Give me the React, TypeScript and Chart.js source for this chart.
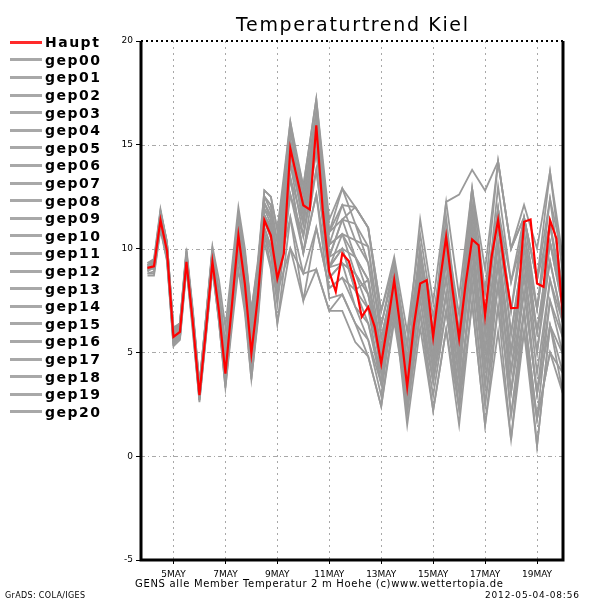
import React, { useEffect, useRef } from "react";
import { Chart, registerables } from "chart.js";
Chart.register(...registerables);

const TITLE = "Temperaturtrend Kiel";
const CAPTION = "GENS alle Member Temperatur 2 m Hoehe (c)www.wettertopia.de";
const CREDIT = "GrADS: COLA/IGES";
const STAMP = "2012-05-04-08:56";

// forecast hours since 2012-05-04 00Z
const HOURS_6 = [0, 6, 12, 18, 24, 30, 36, 42, 48, 54, 60, 66, 72, 78, 84, 90, 96, 102, 108, 114, 120, 126, 132, 138, 144, 150, 156, 162, 168, 174, 180, 186, 192, 198, 204, 210, 216, 222, 228, 234, 240, 246, 252, 258, 264, 270, 276, 282, 288, 294, 300, 306, 312, 318, 324, 330, 336, 342, 348, 354, 360, 366, 372, 378, 384];
const HOURS_M = [0, 6, 12, 18, 24, 30, 36, 42, 48, 54, 60, 66, 72, 78, 84, 90, 96, 102, 108, 114, 120, 132, 144, 156, 168, 180, 192, 204, 216, 228, 240, 252, 264, 276, 288, 300, 312, 324, 336, 348, 360, 372, 384];

const TICK_HOURS = [24, 72, 120, 168, 216, 264, 312, 360];
const TICK_LABELS = ["5MAY", "7MAY", "9MAY", "11MAY", "13MAY", "15MAY", "17MAY", "19MAY"];
const Y_GRID = [0, 5, 10, 15];

const HAUPT = [9.07, 9.15, 11.37, 9.9, 5.75, 5.99, 9.36, 6.4, 2.94, 6.07, 9.36, 7.0, 3.98, 7.27, 10.64, 8.3, 4.95, 7.67, 11.37, 10.64, 8.56, 9.76, 14.82, 13.45, 12.09, 11.88, 15.94, 11.85, 8.88, 7.92, 9.76, 9.4, 8.3, 6.71, 7.19, 6.23, 4.46, 6.39, 8.48, 6.07, 3.34, 6.23, 8.32, 8.48, 5.75, 8.32, 10.57, 8.0, 5.67, 8.3, 10.44, 10.16, 6.79, 9.6, 11.37, 9.1, 7.13, 7.15, 11.29, 11.4, 8.32, 8.16, 11.37, 10.48, 6.55];

const GEP00 = [9.0, 9.2, 11.5, 10.0, 5.9, 6.1, 9.5, 6.6, 3.1, 6.2, 9.5, 7.1, 4.1, 7.4, 10.7, 8.6, 5.5, 8.2, 11.9, 11.5, 9.7, 15.2, 12.6, 16.6, 10.2, 10.7, 8.8, 7.1, 3.5, 7.3, 2.1, 6.9, 2.2, 6.1, 2.3, 9.1, 4.3, 10.2, 5.0, 8.7, 3.0, 6.3, 3.0];
const GEP01 = [9.2, 9.3, 11.2, 9.7, 5.6, 5.9, 9.3, 6.3, 2.8, 5.9, 9.2, 6.8, 3.7, 6.9, 10.1, 7.7, 4.2, 7.0, 10.7, 10.0, 7.9, 13.4, 11.2, 15.4, 10.2, 12.1, 12.0, 11.0, 6.3, 8.9, 4.1, 9.4, 6.0, 12.25, 12.6, 13.8, 12.8, 14.2, 10.0, 11.5, 8.5, 12.4, 7.9];
const GEP02 = [8.9, 9.1, 11.8, 10.3, 6.1, 6.4, 9.8, 6.8, 3.3, 6.5, 9.9, 7.5, 4.4, 7.7, 11.0, 9.0, 5.9, 8.5, 12.2, 11.4, 9.2, 14.7, 11.2, 14.7, 9.6, 11.4, 11.2, 10.1, 5.7, 8.5, 3.6, 8.2, 4.2, 9.4, 5.2, 12.0, 7.9, 14.2, 10.0, 11.5, 7.1, 12.4, 9.5];
const GEP03 = [9.1, 9.0, 11.0, 9.5, 5.4, 5.7, 9.1, 5.9, 2.7, 5.8, 9.1, 6.6, 3.5, 6.6, 9.7, 7.5, 4.2, 7.1, 11.0, 10.1, 7.9, 14.1, 11.7, 16.0, 10.8, 12.9, 11.2, 9.3, 5.1, 8.1, 3.1, 7.6, 3.6, 7.0, 2.3, 9.1, 3.4, 9.3, 3.1, 7.0, 1.8, 7.5, 5.7];
const GEP04 = [9.2, 9.3, 11.6, 10.0, 5.8, 6.1, 9.6, 6.6, 3.0, 6.3, 9.7, 7.6, 4.8, 8.2, 11.6, 9.5, 6.4, 9.0, 12.5, 12.1, 10.3, 15.7, 12.1, 15.4, 9.6, 11.4, 12.0, 11.0, 7.0, 9.3, 4.6, 8.8, 4.2, 7.8, 2.3, 7.4, 1.5, 7.2, 3.1, 8.7, 5.0, 10.3, 7.1];
const GEP05 = [9.0, 9.1, 11.3, 9.8, 5.7, 6.0, 9.4, 6.4, 2.9, 6.1, 9.4, 7.0, 3.9, 7.2, 10.4, 8.2, 4.9, 7.8, 11.6, 10.9, 8.8, 14.7, 11.7, 16.0, 9.6, 10.0, 8.0, 7.1, 4.6, 8.1, 3.1, 7.6, 3.6, 7.8, 3.8, 9.9, 3.4, 8.3, 2.0, 7.0, 0.5, 6.3, 4.9];
const GEP06 = [9.3, 9.5, 11.9, 10.3, 6.0, 6.4, 10.0, 7.0, 3.4, 6.7, 10.1, 8.5, 6.2, 9.1, 12.0, 10.0, 7.0, 9.4, 12.8, 12.5, 10.9, 15.2, 11.7, 15.4, 9.1, 10.7, 10.4, 9.3, 6.3, 9.3, 5.3, 10.0, 6.0, 10.1, 4.5, 11.3, 5.9, 11.9, 7.0, 11.5, 8.5, 13.7, 8.7];
const GEP07 = [8.8, 8.9, 11.1, 9.6, 5.5, 5.8, 9.2, 6.1, 2.6, 5.7, 9.0, 6.5, 3.3, 6.2, 9.0, 6.9, 3.7, 6.5, 10.3, 9.0, 6.4, 10.0, 8.8, 11.0, 8.1, 8.6, 7.2, 5.6, 2.9, 7.7, 3.6, 9.4, 5.4, 9.4, 4.5, 11.3, 6.8, 11.9, 5.9, 10.1, 5.0, 9.4, 6.4];
const GEP08 = [9.1, 9.2, 11.4, 10.0, 5.9, 6.1, 9.5, 6.6, 3.2, 6.3, 9.6, 7.2, 4.1, 7.6, 11.0, 8.8, 5.5, 8.1, 11.6, 11.1, 9.2, 13.4, 9.8, 12.6, 7.6, 7.8, 6.4, 4.8, 2.4, 6.5, 2.6, 8.2, 4.8, 10.1, 5.2, 10.6, 4.3, 8.3, 2.0, 6.0, 0.5, 6.3, 4.0];
const GEP09 = [9.0, 9.3, 11.7, 10.3, 6.2, 6.4, 9.7, 6.9, 3.5, 6.6, 9.8, 7.9, 5.4, 8.5, 11.6, 9.5, 6.4, 9.0, 12.5, 12.1, 10.3, 16.1, 12.6, 16.0, 10.2, 10.7, 9.6, 8.5, 4.6, 8.1, 4.1, 10.0, 5.4, 10.1, 5.9, 12.0, 6.8, 11.9, 8.4, 10.8, 6.0, 10.3, 7.9];
const GEP10 = [8.7, 8.7, 10.9, 9.4, 5.3, 5.6, 9.0, 6.2, 2.8, 5.9, 9.2, 6.7, 3.5, 6.8, 10.1, 7.9, 4.6, 7.2, 10.7, 9.7, 7.3, 12.6, 10.6, 13.8, 8.6, 9.3, 8.8, 7.8, 5.1, 8.5, 3.6, 8.8, 4.8, 8.6, 3.8, 10.6, 5.1, 11.0, 5.9, 10.1, 7.1, 11.2, 7.1];
const GEP11 = [9.2, 9.3, 11.5, 10.0, 5.8, 6.1, 9.6, 6.6, 3.1, 6.2, 9.5, 7.0, 3.9, 7.3, 10.7, 8.5, 5.2, 7.8, 11.3, 10.5, 8.4, 13.4, 9.8, 13.8, 9.1, 10.0, 8.0, 6.4, 4.0, 7.7, 2.6, 6.9, 2.9, 7.0, 3.1, 8.3, 2.5, 8.3, 4.1, 9.4, 6.0, 10.3, 7.1];
const GEP12 = [9.1, 9.1, 11.2, 9.7, 5.6, 5.9, 9.3, 6.4, 2.9, 6.0, 9.3, 6.8, 3.7, 7.1, 10.4, 8.0, 4.6, 7.3, 11.0, 10.1, 7.9, 10.0, 7.5, 9.0, 7.0, 7.0, 5.5, 4.8, 2.4, 6.9, 3.1, 8.8, 5.4, 10.8, 5.9, 12.9, 5.9, 10.2, 4.1, 7.9, 3.0, 8.5, 6.4];
const GEP13 = [8.9, 9.2, 11.6, 10.1, 6.0, 6.3, 9.8, 6.8, 3.3, 6.6, 10.0, 7.5, 4.4, 7.9, 11.3, 9.1, 5.9, 8.6, 12.2, 11.6, 9.7, 15.7, 13.0, 17.2, 10.8, 11.4, 9.6, 7.8, 4.0, 7.3, 1.5, 6.2, 2.2, 6.1, 1.5, 7.4, 1.5, 6.0, 0.8, 6.0, 1.8, 5.0, 4.0];
const GEP14 = [9.0, 9.1, 11.3, 9.8, 5.7, 6.0, 9.4, 6.5, 3.0, 6.1, 9.4, 7.1, 4.1, 7.3, 10.4, 8.3, 5.2, 7.9, 11.6, 10.9, 8.8, 12.6, 9.8, 12.6, 8.6, 9.3, 7.2, 6.4, 3.5, 7.3, 3.1, 8.2, 4.2, 8.6, 3.8, 9.9, 5.1, 9.3, 5.0, 9.4, 4.0, 8.5, 5.7];
const GEP15 = [9.2, 9.4, 11.8, 10.3, 6.1, 6.4, 9.9, 6.8, 3.2, 6.4, 9.8, 7.6, 4.8, 8.1, 11.3, 9.4, 6.4, 9.1, 12.8, 12.5, 10.9, 16.1, 13.0, 17.2, 11.4, 12.9, 12.0, 11.0, 7.0, 9.6, 6.0, 10.7, 6.7, 10.8, 6.8, 12.9, 9.0, 14.2, 10.0, 12.1, 10.0, 13.7, 9.5];
const GEP16 = [9.1, 9.2, 11.4, 9.9, 5.8, 6.1, 9.5, 6.5, 3.0, 6.2, 9.6, 7.2, 4.1, 7.4, 10.7, 8.3, 4.9, 7.8, 11.6, 10.7, 8.4, 14.1, 10.6, 14.7, 9.1, 10.0, 9.6, 8.5, 5.1, 8.9, 5.3, 11.4, 7.4, 12.25, 7.7, 12.9, 7.9, 11.9, 7.0, 10.8, 7.1, 11.2, 7.9];
const GEP17 = [8.8, 8.8, 11.0, 9.5, 5.4, 5.7, 9.2, 6.2, 2.7, 5.8, 9.1, 6.5, 3.3, 6.5, 9.7, 7.2, 3.7, 6.7, 10.7, 9.2, 6.4, 11.5, 8.8, 9.0, 7.0, 7.8, 6.4, 5.6, 3.5, 7.3, 2.6, 8.2, 4.8, 9.4, 4.5, 10.6, 4.3, 9.3, 3.1, 7.9, 3.0, 7.5, 4.9];
const GEP18 = [9.0, 9.2, 11.5, 10.0, 5.9, 6.2, 9.6, 6.6, 3.1, 6.2, 9.5, 7.3, 4.4, 7.7, 11.0, 8.8, 5.5, 8.2, 11.9, 11.2, 9.2, 14.7, 11.2, 15.4, 9.1, 9.3, 8.8, 7.8, 5.1, 8.9, 4.6, 9.4, 5.4, 10.8, 5.2, 12.0, 6.8, 13.0, 8.4, 11.5, 8.5, 11.2, 7.1];
const GEP19 = [9.3, 9.4, 11.7, 10.2, 6.0, 6.3, 9.7, 6.8, 3.4, 6.6, 9.9, 8.0, 5.4, 8.5, 11.6, 9.8, 7.0, 9.2, 12.5, 11.8, 9.7, 14.7, 12.1, 16.6, 10.8, 12.1, 10.4, 10.1, 5.7, 8.5, 4.1, 10.0, 6.0, 11.5, 5.9, 11.3, 5.9, 10.2, 5.0, 10.1, 6.0, 9.4, 6.4];
const GEP20 = [9.1, 9.1, 11.2, 9.7, 5.6, 5.9, 9.3, 6.4, 2.9, 6.0, 9.3, 6.9, 3.9, 7.0, 10.1, 8.0, 4.9, 7.6, 11.3, 10.7, 8.8, 11.5, 7.5, 11.0, 8.1, 8.6, 8.0, 8.5, 4.6, 7.7, 2.1, 6.9, 3.6, 7.8, 3.1, 8.3, 2.5, 7.2, 0.8, 7.0, 1.8, 5.0, 3.0];

const MEMBERS = [GEP00, GEP01, GEP02, GEP03, GEP04, GEP05, GEP06, GEP07, GEP08, GEP09, GEP10, GEP11, GEP12, GEP13, GEP14, GEP15, GEP16, GEP17, GEP18, GEP19, GEP20];
const MEMBER_NAMES = ["gep00", "gep01", "gep02", "gep03", "gep04", "gep05", "gep06", "gep07", "gep08", "gep09", "gep10", "gep11", "gep12", "gep13", "gep14", "gep15", "gep16", "gep17", "gep18", "gep19", "gep20"];

const RED = "#ff0000";
const GRAY = "#9a9a9a";
const FONT = "DejaVu Sans";

function fitText(ctx: CanvasRenderingContext2D, text: string, x: number, y: number, width: number, font: string) {
  ctx.font = font;
  (ctx as any).letterSpacing = "0px";
  const w = ctx.measureText(text).width;
  const ls = (width - w) / Math.max(1, text.length - 1);
  (ctx as any).letterSpacing = ls + "px";
  ctx.textAlign = "left";
  ctx.fillText(text, x, y);
  (ctx as any).letterSpacing = "0px";
}

const decorPlugin = {
  id: "decor",
  beforeDatasetsDraw(chart: any) {
    const ctx: CanvasRenderingContext2D = chart.ctx;
    const a = chart.chartArea;
    const xs = chart.scales.x;
    const ys = chart.scales.y;
    ctx.save();
    ctx.strokeStyle = "#a8a8a8";
    ctx.lineWidth = 1;
    ctx.setLineDash([2, 4]);
    for (const h of TICK_HOURS) {
      const px = Math.round(xs.getPixelForValue(h)) + 0.5;
      ctx.beginPath();
      ctx.moveTo(px, a.top);
      ctx.lineTo(px, a.bottom);
      ctx.stroke();
    }
    ctx.setLineDash([4, 3, 1, 3]);
    for (const v of Y_GRID) {
      const py = Math.round(ys.getPixelForValue(v)) + 0.5;
      ctx.beginPath();
      ctx.moveTo(a.left, py);
      ctx.lineTo(a.right, py);
      ctx.stroke();
    }
    ctx.restore();
  },
  afterDraw(chart: any) {
    const ctx: CanvasRenderingContext2D = chart.ctx;
    const a = chart.chartArea;
    ctx.save();
    ctx.strokeStyle = "#000";
    ctx.lineWidth = 3;
    ctx.beginPath();
    ctx.moveTo(a.left, a.top);
    ctx.lineTo(a.left, a.bottom);
    ctx.lineTo(a.right, a.bottom);
    ctx.lineTo(a.right, a.top);
    ctx.stroke();
    ctx.lineWidth = 2;
    ctx.setLineDash([2, 3]);
    ctx.beginPath();
    ctx.moveTo(a.left, a.top);
    ctx.lineTo(a.right, a.top);
    ctx.stroke();
    ctx.setLineDash([]);

    ctx.fillStyle = "#000";
    ctx.textBaseline = "alphabetic";
    fitText(ctx, TITLE, 236, 31, 232, `19px "${FONT}"`);

    const names = ["Haupt", ...MEMBER_NAMES];
    ctx.font = `bold 14px "${FONT}"`;
    (ctx as any).letterSpacing = "0px";
    const wRef = ctx.measureText("gep00").width;
    const ls = (55 - wRef) / 4;
    names.forEach((name, j) => {
      const y = 41.7 + 17.6 * j;
      ctx.strokeStyle = j === 0 ? "#ff2a2a" : "#a8a8a8";
      ctx.lineWidth = 3;
      ctx.beginPath();
      ctx.moveTo(10, Math.round(y) + 0.5);
      ctx.lineTo(42, Math.round(y) + 0.5);
      ctx.stroke();
      ctx.fillStyle = "#000";
      ctx.font = `bold 14px "${FONT}"`;
      (ctx as any).letterSpacing = ls + "px";
      ctx.textAlign = "left";
      ctx.fillText(name, 45, y + 5.5);
    });
    (ctx as any).letterSpacing = "0px";
    fitText(ctx, CAPTION, 135, 587, 368, `10px "${FONT}"`);
    fitText(ctx, STAMP, 485, 598, 94, `9px "${FONT}"`);
    fitText(ctx, CREDIT, 5, 598, 80, `8px "${FONT}"`);
    ctx.restore();
  },
};

export default function App() {
  const ref = useRef<HTMLCanvasElement>(null);
  useEffect(() => {
    const canvas = ref.current;
    if (!canvas) return;
    const datasets: any[] = [
      {
        label: "Haupt",
        data: HAUPT.map((y, i) => ({ x: HOURS_6[i], y })),
        borderColor: RED,
        backgroundColor: RED,
        borderWidth: 2.2,
        pointRadius: 0,
        tension: 0,
        order: 0,
      },
      ...MEMBERS.map((arr, k) => ({
        label: MEMBER_NAMES[k],
        data: arr.map((y, i) => ({ x: HOURS_M[i], y })),
        borderColor: GRAY,
        backgroundColor: GRAY,
        borderWidth: 1.8,
        pointRadius: 0,
        tension: 0,
        order: 1,
      })),
    ];
    const chart = new Chart(canvas, {
      type: "line",
      data: { datasets },
      plugins: [decorPlugin],
      options: {
        animation: false,
        responsive: false,
        events: [],
        layout: { padding: { left: 111, right: 37, top: 41, bottom: 20 } },
        plugins: { legend: { display: false }, tooltip: { enabled: false }, title: { display: false } },
        scales: {
          x: {
            type: "linear",
            min: -6,
            max: 384,
            afterFit: (s: any) => { s.height = 20; },
            afterBuildTicks: (s: any) => { s.ticks = TICK_HOURS.map((v) => ({ value: v })); },
            grid: { drawOnChartArea: false, drawTicks: true, tickLength: 4, tickColor: "#000", color: "#000" },
            border: { display: false },
            ticks: {
              autoSkip: false,
              maxRotation: 0,
              padding: 5,
              color: "#000",
              font: { family: FONT, size: 9 },
              callback: (v: any) => {
                const idx = TICK_HOURS.indexOf(Number(v));
                return idx >= 0 ? TICK_LABELS[idx] : "";
              },
            },
          },
          y: {
            type: "linear",
            min: -5,
            max: 20,
            afterFit: (s: any) => { s.width = 30; },
            grid: { drawOnChartArea: false, drawTicks: true, tickLength: 5, tickColor: "#000", color: "#000" },
            border: { display: false },
            ticks: { stepSize: 5, padding: 3, color: "#000", font: { family: FONT, size: 9 } },
          },
        },
      },
    });
    return () => chart.destroy();
  }, []);
  return (
    <div style={{ position: "fixed", left: 0, top: 0, width: 600, height: 600, background: "#fff" }}>
      <canvas ref={ref} width={600} height={600} />
    </div>
  );
}
